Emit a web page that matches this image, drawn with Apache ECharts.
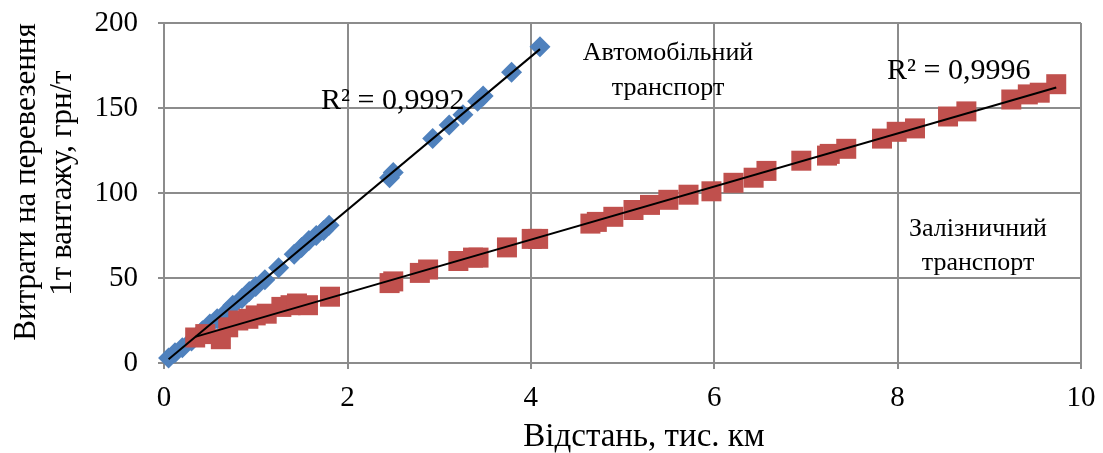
<!DOCTYPE html>
<html>
<head>
<meta charset="utf-8">
<script src="https://cdn.jsdelivr.net/npm/echarts@6/dist/echarts.min.js"></script>
<style>
  html, body { margin: 0; padding: 0; background: #fff; }
  #chart { width: 1103px; height: 453px; }
</style>
</head>
<body>
<div id="chart"></div>
<script>
// Distance (thousand km) and cost of carrying 1 t of cargo (UAH/t)
const autoDistance = [0.05, 0.12, 0.2, 0.3, 0.42, 0.5, 0.58, 0.68, 0.75, 0.85, 0.93, 1.0, 1.1, 1.25, 1.42, 1.5, 1.58, 1.66, 1.74, 1.8, 2.46, 2.5, 2.93, 3.11, 3.26, 3.42, 3.48, 3.79, 4.1];
const autoCost     = [3, 6, 9, 13, 19, 23, 26, 30, 34, 38, 42, 45, 49, 56, 64, 68, 72, 75, 78, 81, 109, 112, 132, 140, 146, 154, 157, 171, 186];

const railDistance = [0.34, 0.45, 0.62, 0.7, 0.81, 0.92, 1.0, 1.12, 1.28, 1.38, 1.45, 1.57, 1.81, 2.46, 2.5, 2.79, 2.88, 3.21, 3.37, 3.43, 3.74, 4.01, 4.08, 4.65, 4.72, 4.9, 5.12, 5.3, 5.5, 5.72, 5.97, 6.21, 6.43, 6.57, 6.95, 7.23, 7.26, 7.44, 7.83, 7.99, 8.19, 8.55, 8.75, 9.24, 9.42, 9.55, 9.73];
const railCost     = [15, 17, 14, 21, 25, 26, 28, 29, 33, 34, 35, 34, 39, 47, 48, 53, 55, 60, 62, 62, 68, 73, 73, 82, 83, 86, 90, 93, 96, 99, 101, 106, 109, 113, 119, 122, 123, 126, 132, 136, 138, 145, 148, 155, 158, 159, 164];

const xTicks = [0, 2, 4, 6, 8, 10];
const yTicks = [0, 50, 100, 150, 200];

const autoLabel = ['Автомобільний', 'транспорт'];
const railLabel = ['Залізничний', 'транспорт'];
const autoR2 = 'R² = 0,9992';
const railR2 = 'R² = 0,9996';
const xTitle = 'Відстань, тис. км';
const yTitle = ['Витрати на перевезення', '1т вантажу, грн/т'];

// Least-squares linear trend over the range of the data
function trend(xs, ys) {
  const n = xs.length;
  let sx = 0, sy = 0, sxx = 0, sxy = 0;
  for (let i = 0; i < n; i++) { sx += xs[i]; sy += ys[i]; sxx += xs[i] * xs[i]; sxy += xs[i] * ys[i]; }
  const b = (n * sxy - sx * sy) / (n * sxx - sx * sx);
  const a = (sy - b * sx) / n;
  const x0 = Math.min(...xs), x1 = Math.max(...xs);
  return [[x0, a + b * x0], [x1, a + b * x1]];
}
const pairs = (xs, ys) => xs.map((x, i) => [x, ys[i]]);

const serif = '"Liberation Serif", "Times New Roman", serif';
const gridColor = '#8c8c8c';

const chart = echarts.init(document.getElementById('chart'), null, { renderer: 'canvas' });

// Free-standing text element; align defaults to centre
const txt = (text, x, y, size, align, extra) => Object.assign({
  type: 'text', x, y, z: 100,
  style: { text, font: size + 'px ' + serif, fill: '#000', align: align || 'center', verticalAlign: 'middle' }
}, extra || {});

chart.setOption({
  animation: false,
  backgroundColor: '#fff',
  grid: { left: 164, top: 23, right: 22, bottom: 90, containLabel: false },
  xAxis: {
    type: 'value',
    min: xTicks[0], max: xTicks[xTicks.length - 1], interval: xTicks[1] - xTicks[0],
    axisLine: { show: true, lineStyle: { color: gridColor, width: 2 } },
    axisTick: { show: true, inside: false, length: 6, lineStyle: { color: gridColor, width: 2 } },
    splitLine: { show: true, lineStyle: { color: gridColor, width: 2 } },
    axisLabel: { color: '#000', fontFamily: serif, fontSize: 29, margin: 21 }
  },
  yAxis: {
    type: 'value',
    min: yTicks[0], max: yTicks[yTicks.length - 1], interval: yTicks[1] - yTicks[0],
    axisLine: { show: true, lineStyle: { color: gridColor, width: 2 } },
    axisTick: { show: true, inside: false, length: 6, lineStyle: { color: gridColor, width: 2 } },
    splitLine: { show: true, lineStyle: { color: gridColor, width: 2 } },
    axisLabel: { color: '#000', fontFamily: serif, fontSize: 29, margin: 26 }
  },
  series: [
    {
      name: 'auto', type: 'scatter', data: pairs(autoDistance, autoCost),
      symbol: 'diamond', symbolSize: [21, 21], z: 2,
      itemStyle: { color: '#4F81BD', opacity: 1 }
    },
    {
      name: 'rail', type: 'scatter', data: pairs(railDistance, railCost),
      symbol: 'rect', symbolSize: [20, 20], z: 3,
      itemStyle: { color: '#C0504D', opacity: 1 }
    },
    {
      name: 'auto trend', type: 'line', data: trend(autoDistance, autoCost),
      showSymbol: false, symbol: 'none', z: 4,
      lineStyle: { color: '#000', width: 2 }
    },
    {
      name: 'rail trend', type: 'line', data: trend(railDistance, railCost),
      showSymbol: false, symbol: 'none', z: 4,
      lineStyle: { color: '#000', width: 2 }
    }
  ],
  graphic: [
    txt(autoR2, 321, 101, 30, 'left'),
    txt(railR2, 887, 71, 30, 'left'),
    txt(autoLabel[0], 668, 53, 26),
    txt(autoLabel[1], 668, 88, 26),
    txt(railLabel[0], 978, 229, 26),
    txt(railLabel[1], 978, 263, 26),
    txt(xTitle, 644, 437, 33),
    txt(yTitle[0], 27, 182, 31, 'center', { rotation: Math.PI / 2 }),
    txt(yTitle[1], 63, 183, 31, 'center', { rotation: Math.PI / 2 })
  ]
});
</script>
</body>
</html>
